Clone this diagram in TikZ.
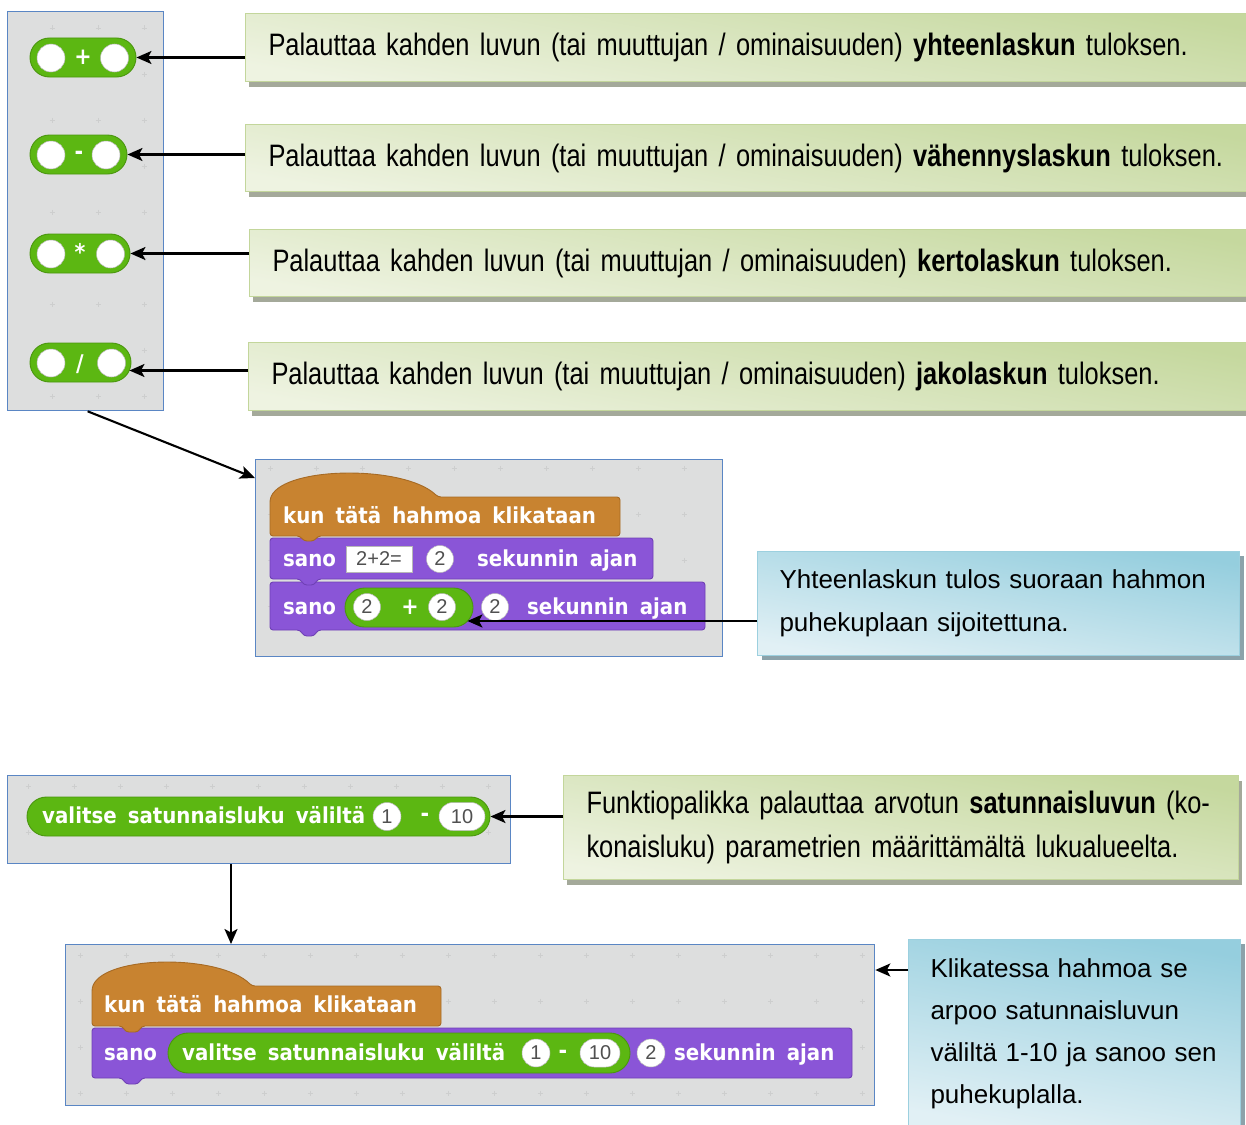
\documentclass[tikz,border=0pt]{standalone}
\usepackage{fontspec}
\setmainfont{Liberation Sans}
\newfontfamily\notefont[FakeStretch=0.82,WordSpace=0.85]{Liberation Sans}
\newfontfamily\blockfont[FakeStretch=0.9,WordSpace=1.6]{DejaVu Sans}
\usetikzlibrary{arrows.meta,calc,shapes.misc,shadows}

\definecolor{panelfill}{HTML}{DDDEDE}
\definecolor{panelline}{HTML}{5A86C4}
\definecolor{gridgray}{HTML}{CDCECE}
\definecolor{opgreen}{HTML}{5CB712}
\definecolor{opgreendark}{HTML}{4A960E}
\definecolor{hatorange}{HTML}{C88330}
\definecolor{hatdark}{HTML}{A66A24}
\definecolor{looksviolet}{HTML}{8A55D7}
\definecolor{looksdark}{HTML}{6F40B5}
\definecolor{slotedge}{HTML}{B8B8B8}
\definecolor{slottext}{HTML}{505050}
\definecolor{gnoteD}{HTML}{C5D89E}
\definecolor{gnoteL}{HTML}{EEF3E1}
\definecolor{gnoteedge}{HTML}{C3D69B}
\definecolor{gshadow}{HTML}{A4A99A}
\definecolor{bnoteD}{HTML}{95CEDE}
\definecolor{bnoteL}{HTML}{E1F0F5}
\definecolor{bnoteedge}{HTML}{9CD0DF}
\definecolor{bshadow}{HTML}{8BA2AA}

\begin{document}
\begin{tikzpicture}[x=1pt,y=-1pt,
  panel/.style={draw=panelline, line width=1.3pt, fill=panelfill, anchor=north west, inner sep=0pt},
  gridmark/.style={draw=gridgray, line width=0.7pt},
  reporter/.style={rounded rectangle, fill=opgreen, draw=opgreendark, line width=0.9pt, inner sep=0pt},
  slot/.style={circle, fill=white, draw=slotedge, line width=0.5pt, inner sep=0pt, minimum size=27pt, text=slottext, font=\fontsize{20}{20}\selectfont},
  wideslot/.style={rounded rectangle, fill=white, draw=slotedge, line width=0.5pt, inner sep=0pt, minimum height=27pt, text=slottext, font=\fontsize{20}{20}\selectfont},
  opsign/.style={text=white, inner sep=0pt, font=\blockfont\bfseries\fontsize{23}{23}\selectfont},
  btext/.style={text=white, inner sep=0pt, anchor=base west, font=\blockfont\bfseries\fontsize{22}{22}\selectfont},
  hatblock/.style={fill=hatorange, draw=hatdark, line width=0.9pt, rounded corners=3pt},
  looksblock/.style={fill=looksviolet, draw=looksdark, line width=0.9pt, rounded corners=3pt},
  gnote/.style={anchor=north west, draw=gnoteedge, line width=1pt, top color=gnoteD, bottom color=gnoteL, shading angle=-10,
    general shadow={fill=gshadow, shadow xshift=3pt, shadow yshift=-5pt},
    inner xsep=23pt, inner ysep=0pt, align=left, font=\notefont\fontsize{31}{44}\selectfont},
  bnote/.style={anchor=north west, draw=bnoteedge, line width=1pt, top color=bnoteD, bottom color=bnoteL, shading angle=-10,
    general shadow={fill=bshadow, shadow xshift=4pt, shadow yshift=-4pt},
    inner xsep=22pt, inner ysep=0pt, align=left},
  arr/.style={line width=2.1pt, -{Stealth[length=15pt,width=13pt,inset=3.5pt]}}
]
\useasboundingbox (0,0) rectangle (1246,1124);
\clip (0,0) rectangle (1246,1124);

% ---------- operator palette ----------
\node[panel, minimum width=156pt, minimum height=399pt] (p1) at (7,11) {};
\foreach \gx in {52,98,144} \foreach \gy in {28,74,...,400}
  \draw[gridmark] (\gx-2.5,\gy) -- (\gx+2.5,\gy) (\gx,\gy-2.5) -- (\gx,\gy+2.5);

\node[reporter, minimum width=106pt, minimum height=39pt] (op1) at (83,57.5) {};
\node[slot, minimum size=28pt] (op1l) at (51,58) {};
\node[slot, minimum size=28pt] (op1r) at (114.5,58) {};
\node[opsign] (op1s) at (83,57) {+};

\node[reporter, minimum width=97pt, minimum height=39pt] (op2) at (78.5,154.5) {};
\node[slot, minimum size=28pt] (op2l) at (51,155) {};
\node[slot, minimum size=28pt] (op2r) at (106,155) {};
\node[opsign] (op2s) at (79,155) {-};

\node[reporter, minimum width=100pt, minimum height=39pt] (op3) at (80,253.5) {};
\node[slot, minimum size=28pt] (op3l) at (51,254) {};
\node[slot, minimum size=28pt] (op3r) at (110.5,254) {};
\node[opsign] (op3s) at (80,252) {*};

\node[reporter, minimum width=101pt, minimum height=39pt] (op4) at (80.5,362.5) {};
\node[slot, minimum size=28pt] (op4l) at (51,363) {};
\node[slot, minimum size=28pt] (op4r) at (111.5,363) {};
\node[opsign] (op4s) at (80,364) {/};

% ---------- script: sum straight into the speech bubble ----------
\node[panel, minimum width=467pt, minimum height=197pt] (p2) at (255,459) {};
\foreach \gx in {270,316,...,715} \foreach \gy in {468,514,...,650}
  \draw[gridmark] (\gx-2.5,\gy) -- (\gx+2.5,\gy) (\gx,\gy-2.5) -- (\gx,\gy+2.5);

\path[looksblock] (270,582) -- (705,582) -- (705,630) -- (318,630) -- (314,636) -- (304,636) -- (300,630) -- (270,630) -- cycle;
\path[looksblock] (270,538) -- (653,538) -- (653,579) -- (318,579) -- (314,585) -- (304,585) -- (300,579) -- (270,579) -- cycle;
\path[hatblock] (270,536) -- (270,499) .. controls (285,466) and (405,465) .. (438,497) -- (620,497) -- (620,536)
  -- (318,536) -- (314,541) -- (304,541) -- (300,536) -- cycle;

\node[btext] (h2) at (283,523) {kun tätä hahmoa klikataan};
\node[btext] (s2a) at (283,566) {sano};
\node[rectangle, fill=white, draw=slotedge, line width=0.5pt, minimum width=66pt, minimum height=26pt, inner sep=0pt,
  text=slottext, font=\fontsize{20}{20}\selectfont] (str2) at (379,559) {2+2=};
\node[slot] (sec2a) at (440,559) {2};
\node[btext] (t2a) at (477,566) {sekunnin ajan};

\node[btext] (s2b) at (283,614) {sano};
\node[reporter, minimum width=128pt, minimum height=39pt] (sum) at (409,607.5) {};
\node[slot] (suml) at (367,607) {2};
\node[opsign] (sums) at (410,607) {+};
\node[slot] (sumr) at (442,607) {2};
\node[slot] (sec2b) at (495,607) {2};
\node[btext] (t2b) at (527,614) {sekunnin ajan};

% ---------- random number reporter ----------
\node[panel, minimum width=503pt, minimum height=88pt] (p3) at (7,775) {};
\foreach \gx in {28,74,...,505} \foreach \gy in {786,832}
  \draw[gridmark] (\gx-2.5,\gy) -- (\gx+2.5,\gy) (\gx,\gy-2.5) -- (\gx,\gy+2.5);
\node[reporter, minimum width=463pt, minimum height=39pt] (rnd) at (258.5,816.5) {};
\node[btext] (rndt) at (42,823) {valitse satunnaisluku väliltä};
\node[slot, minimum size=28pt] (rnda) at (387,816.5) {1};
\node[opsign] (rndm) at (425,817) {-};
\node[wideslot, minimum width=46pt, minimum height=28pt] (rndb) at (462,816.5) {10};

% ---------- script: say a random number ----------
\node[panel, minimum width=809pt, minimum height=161pt] (p4) at (65,944) {};
\foreach \gx in {80,126,...,870} \foreach \gy in {955,1001,...,1100}
  \draw[gridmark] (\gx-2.5,\gy) -- (\gx+2.5,\gy) (\gx,\gy-2.5) -- (\gx,\gy+2.5);

\path[looksblock] (92,1028) -- (852,1028) -- (852,1078) -- (142,1078) -- (138,1084) -- (126,1084) -- (122,1078) -- (92,1078) -- cycle;
\path[hatblock] (92,1026) -- (92,988) .. controls (106,955) and (220,954) .. (252,986) -- (441,986) -- (441,1026)
  -- (142,1026) -- (138,1032) -- (126,1032) -- (122,1026) -- cycle;

\node[btext] (h4) at (104,1012) {kun tätä hahmoa klikataan};
\node[btext] (s4) at (104,1060) {sano};
\node[reporter, minimum width=462pt, minimum height=40pt] (rnd4) at (399,1053) {};
\node[btext] (rnd4t) at (182,1060) {valitse satunnaisluku väliltä};
\node[slot, minimum size=28pt] (rnd4a) at (536,1053) {1};
\node[opsign] (rnd4m) at (563,1054) {-};
\node[wideslot, minimum width=40pt, minimum height=28pt] (rnd4b) at (600,1053) {10};
\node[slot, minimum size=28pt] (sec4) at (651,1053) {2};
\node[btext] (t4) at (674,1060) {sekunnin ajan};

% ---------- explanations ----------
\node[gnote, minimum height=68pt, text width=975pt] (c1) at (245,13)
  {\mbox{Palauttaa kahden luvun (tai muuttujan / ominaisuuden) \textbf{yhteenlaskun} tuloksen.}};
\node[gnote, minimum height=67pt, text width=975pt] (c2) at (245,124)
  {\mbox{Palauttaa kahden luvun (tai muuttujan / ominaisuuden) \textbf{vähennyslaskun} tuloksen.}};
\node[gnote, minimum height=67pt, text width=975pt] (c3) at (249,229)
  {\mbox{Palauttaa kahden luvun (tai muuttujan / ominaisuuden) \textbf{kertolaskun} tuloksen.}};
\node[gnote, minimum height=68pt, text width=975pt] (c4) at (248,342)
  {\mbox{Palauttaa kahden luvun (tai muuttujan / ominaisuuden) \textbf{jakolaskun} tuloksen.}};

\node[bnote, minimum height=104pt, text width=438pt, font=\fontsize{26}{43}\selectfont] (b1) at (757,551)
  {\mbox{Yhteenlaskun tulos suoraan hahmon}\\\mbox{puhekuplaan sijoitettuna.}};

\node[gnote, minimum height=104pt, text width=629pt] (c5) at (563,775)
  {\mbox{Funktiopalikka palauttaa arvotun \textbf{satunnaisluvun} (ko-}\\\mbox{konaisluku) parametrien määrittämältä lukualueelta.}};

\node[bnote, minimum height=188pt, text width=288pt, font=\fontsize{26}{42}\selectfont] (b2) at (908,939)
  {\mbox{Klikatessa hahmoa se}\\\mbox{arpoo satunnaisluvun}\\\mbox{väliltä 1-10 ja sanoo sen}\\\mbox{puhekuplalla.}};

% ---------- connectors ----------
\draw[arr] (c1.west |- op1.east) -- (op1.east);
\draw[arr] (c2.west |- op2.east) -- (op2.east);
\draw[arr] (c3.west |- op3.east) -- (op3.east);
\coordinate (op4tip) at ($(op4.east)+(-2,8)$);
\draw[arr] (c4.west |- op4tip) -- (op4tip);

\draw[arr] ($(p1.south)+(2,0)$) -- ($(p2.north west)+(0,19)$);

\coordinate (sumtip) at ($(sum.east)+(-6,13.5)$);
\draw[arr] (b1.west |- sumtip) -- (sumtip);

\draw[arr] (c5.west |- rnd.east) -- (rnd.east);

\coordinate (drop) at (231,0);
\draw[arr] (p3.south -| drop) -- (p4.north -| drop);

\coordinate (lvl) at (0,970);
\draw[arr] (b2.west |- lvl) -- (p4.east |- lvl);
\end{tikzpicture}
\end{document}
